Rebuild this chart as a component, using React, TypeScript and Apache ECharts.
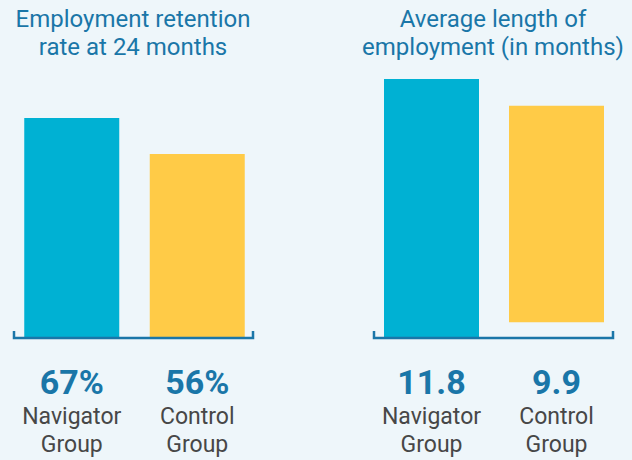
import React, { useEffect, useRef } from "react";
import * as echarts from "echarts";

const categories = ["Navigator\nGroup", "Control\nGroup"];
const retentionRates = [67, 56]; // percent at 24 months
const avgMonths = [11.8, 9.9]; // average length of employment, months
// in the original graphic the Control bar of the right panel floats slightly above the baseline
const rightPanelLift = [0, 0.68];
const leftTitle = "Employment retention\nrate at 24 months";
const rightTitle = "Average length of\nemployment (in months)";

const BLUE = "#1A76A8";
const CYAN = "#00B1D3";
const YELLOW = "#FFCB47";
const GREY = "#474747";
const BG = "#EEF6FA";
const barColors = [CYAN, YELLOW];

function labelFormatter(vals: number[], suffix: string) {
  return (value: string, index: number) => {
    const lines = value.split("\n").map((l) => `{c|${l}}`).join("\n");
    return `{v|${vals[index]}${suffix}}\n${lines}`;
  };
}

const rich = {
  v: { fontFamily: "Roboto", fontWeight: 700, fontSize: 34, color: BLUE, lineHeight: 40 },
  c: { fontFamily: "Roboto", fontWeight: 400, fontSize: 23, color: GREY, lineHeight: 28 },
};

export default function App() {
  const ref = useRef<HTMLDivElement>(null);
  useEffect(() => {
    if (!ref.current) return;
    const chart = echarts.init(ref.current, null, { renderer: "svg" });
    const titleStyle = {
      fontFamily: "Roboto",
      fontSize: 24,
      fontWeight: 400,
      fill: BLUE,
      align: "center",
      verticalAlign: "top",
      lineHeight: 28,
    };
    const bracket = (x0: number, x1: number) => ({
      type: "polyline",
      shape: { points: [[x0, 331], [x0, 338], [x1, 338], [x1, 331]] },
      style: { stroke: BLUE, lineWidth: 2.5, fill: null },
      z: 10,
    });
    chart.setOption({
      animation: false,
      backgroundColor: BG,
      grid: [
        { left: 9, width: 251, top: 10, bottom: 123 },
        { left: 369, width: 250, top: 9, bottom: 123 },
      ],
      xAxis: [0, 1].map((g) => ({
        type: "category",
        gridIndex: g,
        data: categories,
        axisLine: { show: false },
        axisTick: { show: false },
        axisLabel: {
          margin: 25,
          interval: 0,
          formatter: labelFormatter(g === 0 ? retentionRates : avgMonths, g === 0 ? "%" : ""),
          rich,
        },
      })),
      yAxis: [
        { type: "value", gridIndex: 0, min: 0, max: 100, show: false },
        { type: "value", gridIndex: 1, min: 0, max: 15, show: false },
      ],
      series: [
        {
          type: "bar",
          xAxisIndex: 0,
          yAxisIndex: 0,
          data: retentionRates,
          barWidth: 95,
          itemStyle: { color: (p: any) => barColors[p.dataIndex] },
        },
        {
          type: "bar",
          xAxisIndex: 1,
          yAxisIndex: 1,
          stack: "r",
          data: rightPanelLift,
          barWidth: 95,
          silent: true,
          itemStyle: { color: "rgba(0,0,0,0)" },
        },
        {
          type: "bar",
          xAxisIndex: 1,
          yAxisIndex: 1,
          stack: "r",
          data: avgMonths,
          barWidth: 95,
          itemStyle: { color: (p: any) => barColors[p.dataIndex] },
        },
      ],
      graphic: [
        { type: "text", x: 133, y: 5, style: { ...titleStyle, text: leftTitle } },
        { type: "text", x: 493, y: 5, style: { ...titleStyle, text: rightTitle } },
        bracket(14, 253),
        bracket(374, 613),
      ],
    });
    return () => chart.dispose();
  }, []);
  return (
    <div
      ref={ref}
      style={{ position: "fixed", left: 0, top: 0, width: 632, height: 460 }}
    />
  );
}
